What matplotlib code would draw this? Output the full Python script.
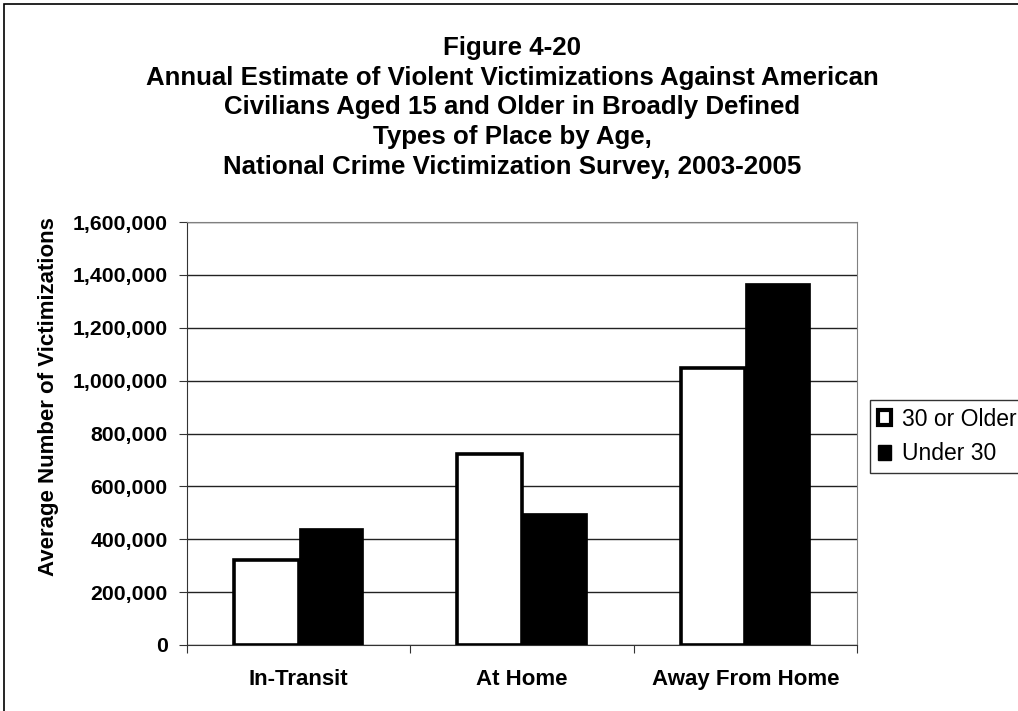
import matplotlib
matplotlib.use("Agg")
import matplotlib.pyplot as plt
import numpy as np
from matplotlib.patches import Rectangle, Patch

plt.rcParams['font.family'] = ['Liberation Sans', 'DejaVu Sans']

# data
places = ["In-Transit", "At Home", "Away From Home"]
older_30 = [323000, 724000, 1048000]
under_30 = [443000, 500000, 1370000]
series_names = ["30 or Older", "Under 30"]
y_ticks = [0, 200000, 400000, 600000, 800000, 1000000, 1200000, 1400000, 1600000]

title_lines = [
    "Figure 4-20",
    "Annual Estimate of Violent Victimizations Against American",
    "Civilians Aged 15 and Older in Broadly Defined",
    "Types of Place by Age,",
    "National Crime Victimization Survey, 2003-2005",
]

W, H = 1018, 711
fig = plt.figure(figsize=(W / 100, H / 100), dpi=100)
fig.patch.set_facecolor("white")

# outer chart border (right/bottom run off the picture)
fig.patches.append(Rectangle((4 / W, -0.1), 1.2, 1.1 - 4 / H,
                             transform=fig.transFigure, fill=False,
                             edgecolor="black", linewidth=1.2))

ax = fig.add_axes([187 / W, 1 - 645 / H, (857 - 187) / W, (645 - 222) / H])

x = np.arange(len(places))
bw = 0.29
ax.bar(x - bw / 2, older_30, width=bw, color="white", edgecolor="black",
       linewidth=2.6, zorder=3, label=series_names[0])
ax.bar(x + bw / 2, under_30, width=bw, color="black", edgecolor="black",
       linewidth=0.5, zorder=3, label=series_names[1])

ax.set_xlim(-0.5, len(places) - 0.5)
ax.set_ylim(0, 1600000)
ax.set_yticks(y_ticks)
ax.set_yticklabels([f"{v:,}" for v in y_ticks], fontsize=15.3, fontweight="bold")
ax.yaxis.grid(True, color="#222222", linewidth=1.0, zorder=0)
ax.set_axisbelow(True)

# category labels between boundary ticks
ax.set_xticks(np.arange(-0.5, len(places), 1.0))
ax.set_xticklabels([])
ax.set_xticks(x, minor=True)
ax.set_xticklabels(places, minor=True, fontsize=16, fontweight="bold")
ax.tick_params(axis="x", which="minor", length=0, pad=17)
ax.tick_params(axis="x", which="major", length=6, direction="out", color="#333333")
ax.tick_params(axis="y", length=6, direction="out", pad=8, color="#333333")

for side in ["top", "right"]:
    ax.spines[side].set_color("#808080")
ax.spines["left"].set_color("#333333")
ax.spines["bottom"].set_color("#333333")

ax.set_ylabel("Average Number of Victimizations", fontsize=16, fontweight="bold")
ax.yaxis.set_label_coords(-0.207, 0.587)
ax.yaxis.label.set_va("center")

for i, line in enumerate(title_lines):
    fig.text(512 / W, 1 - (55 + 29.7 * i) / H, line, ha="center", va="baseline",
             fontsize=18.6, fontweight="bold")

handles = [Patch(facecolor="white", edgecolor="black", linewidth=3),
           Patch(facecolor="black", edgecolor="black")]
leg = fig.legend(handles, series_names, loc="upper left",
                 bbox_to_anchor=(870 / W, 1 - 400 / H), fontsize=16.5,
                 frameon=True, fancybox=False, shadow=False,
                 handlelength=0.6, handleheight=0.6, handletextpad=0.45,
                 labelspacing=0.52, borderpad=0.33, borderaxespad=0)
leg.get_frame().set_edgecolor("black")
leg.get_frame().set_linewidth(1.0)

fig.savefig("out.png", dpi=100)
